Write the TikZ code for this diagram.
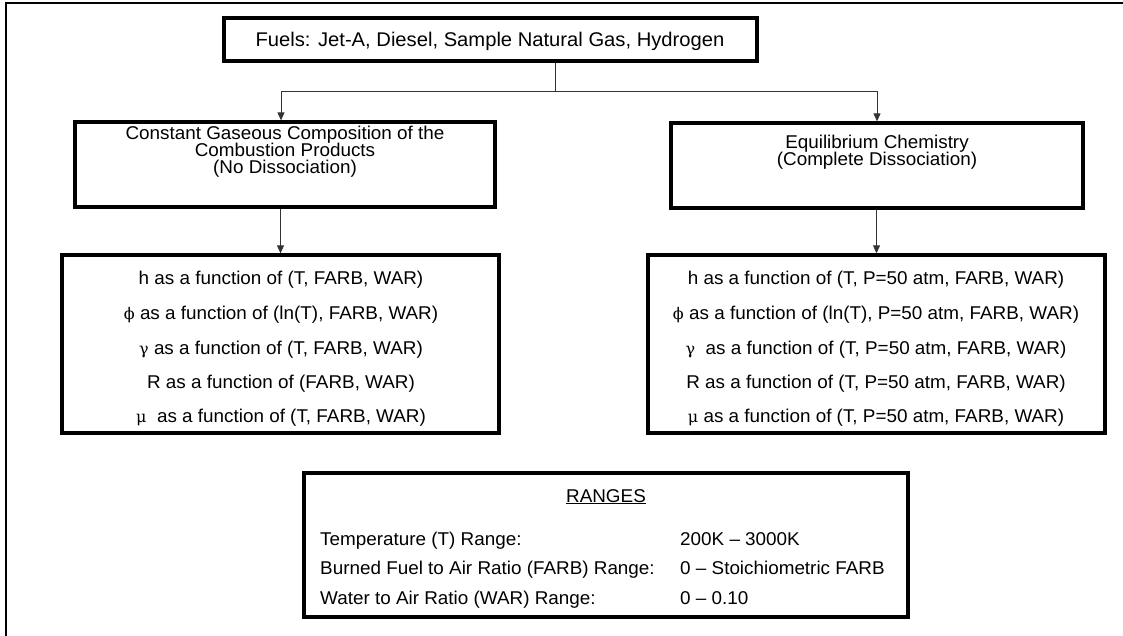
\documentclass[tikz,border=0pt]{standalone}
\usepackage{fontspec}
\setmainfont{Liberation Sans}[FakeStretch=1.02]
\newfontfamily\grkfont{DejaVu Serif}
\newcommand{\gk}[1]{{\grkfont\fontsize{16}{16}\selectfont #1}}
\usetikzlibrary{arrows.meta}
\begin{document}
\begin{tikzpicture}[x=1pt,y=-1pt,
  box/.style={draw, line width=3.3pt, inner sep=0pt, anchor=center},
  txt/.style={anchor=base, inner sep=0pt, font=\fontsize{18.5}{18.5}\selectfont},
  lefttxt/.style={anchor=base west, inner sep=0pt, font=\fontsize{18.5}{18.5}\selectfont},
  conn/.style={line width=0.9pt, draw=black!80},
  arr/.style={conn, -{Triangle[length=8pt,width=7pt]}}]
\path[fill=white] (0,0) rectangle (1123,636);
\useasboundingbox (0,0) rectangle (1123,636);
% outer frame (only left and top edges are visible)
\draw[line width=2.6pt] (6,636) -- (6,3) -- (1123,3);

% boxes
\node[box, minimum width=533pt, minimum height=43pt] (top) at (490.5,39.5) {};
\node[box, minimum width=420pt, minimum height=85pt] (lmid) at (285,164.5) {};
\node[box, minimum width=412pt, minimum height=85pt] (rmid) at (877,165.5) {};
\node[box, minimum width=437pt, minimum height=178pt] (llow) at (280.5,344) {};
\node[box, minimum width=457pt, minimum height=178pt] (rlow) at (876.5,344) {};
\node[box, minimum width=604pt, minimum height=144pt] (rng) at (606,545) {};

% texts
\node[txt, font=\fontsize{19.8}{19.8}\selectfont] (t0) at (490,47) {Fuels: Jet-A, Diesel, Sample Natural Gas, Hydrogen};

\node[txt] (lm1) at (285,140) {Constant Gaseous Composition of the};
\node[txt] (lm2) at (285,157) {Combustion Products};
\node[txt] (lm3) at (285,174) {(No Dissociation)};

\node[txt] (rm1) at (877,149) {Equilibrium Chemistry};
\node[txt] (rm2) at (877,166) {(Complete Dissociation)};

\node[txt] (ll1) at (281,284) {h as a function of (T, FARB, WAR)};
\node[txt] (ll2) at (281,319) {\gk{ϕ} as a function of (ln(T), FARB, WAR)};
\node[txt] (ll3) at (281,354) {\gk{γ} as a function of (T, FARB, WAR)};
\node[txt] (ll4) at (281,388) {R as a function of (FARB, WAR)};
\node[txt] (ll5) at (281,422) {\gk{μ}\ \ as a function of (T, FARB, WAR)};

\node[txt] (rl1) at (876,284) {h as a function of (T, P=50 atm, FARB, WAR)};
\node[txt] (rl2) at (876,319) {\gk{ϕ} as a function of (ln(T), P=50 atm, FARB, WAR)};
\node[txt] (rl3) at (876,354) {\gk{γ}\ \ as a function of (T, P=50 atm, FARB, WAR)};
\node[txt] (rl4) at (876,388) {R as a function of (T, P=50 atm, FARB, WAR)};
\node[txt] (rl5) at (876,422) {\gk{μ} as a function of (T, P=50 atm, FARB, WAR)};

\node[txt] (rg0) at (606,502) {\underline{RANGES}};
\node[lefttxt] (rg1) at (320,545) {Temperature (T) Range:};
\node[lefttxt] (rg2) at (320,574) {Burned Fuel to Air Ratio (FARB) Range:};
\node[lefttxt] (rg3) at (320,604) {Water to Air Ratio (WAR) Range:};
\node[lefttxt] (rv1) at (680,545) {200K – 3000K};
\node[lefttxt] (rv2) at (680,574) {0 – Stoichiometric FARB};
\node[lefttxt] (rv3) at (680,604) {0 – 0.10};

% connectors
\coordinate (j) at (555,91);
\coordinate (la) at (281,91);
\draw[conn] (top.south -| j) -- (j);
\draw[arr] (j) -- (la) -- (la |- lmid.north);
\draw[arr] (j) -| (rmid.north);
\draw[arr] (llow.north |- lmid.south) -- (llow.north);
\draw[arr] (rlow.north |- rmid.south) -- (rlow.north);
\end{tikzpicture}
\end{document}
